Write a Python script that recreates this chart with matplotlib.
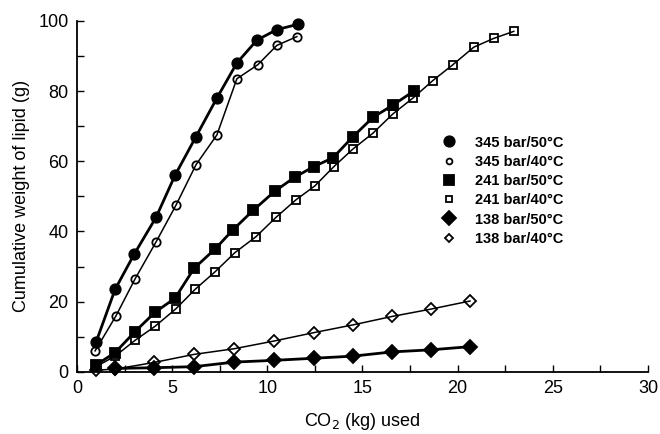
import matplotlib
matplotlib.use("Agg")
import matplotlib.pyplot as plt
from matplotlib.ticker import MultipleLocator

plt.rcParams['font.family'] = ['Liberation Sans', 'DejaVu Sans']

# 345 bar / 50 C
x_345_50 = [1.0, 2.0, 3.0, 4.15, 5.15, 6.25, 7.35, 8.4, 9.45, 10.5, 11.6]
y_345_50 = [8.5, 23.5, 33.5, 44, 56, 67, 78, 88, 94.5, 97.5, 99]
# 345 bar / 40 C
x_345_40 = [0.95, 2.05, 3.05, 4.15, 5.2, 6.25, 7.35, 8.4, 9.5, 10.5, 11.55]
y_345_40 = [6, 16, 26.5, 37, 47.5, 59, 67.5, 83.5, 87.5, 93, 95.5]
# 241 bar / 50 C
x_241_50 = [1.0, 2.0, 3.05, 4.1, 5.15, 6.15, 7.25, 8.2, 9.25, 10.4, 11.45,
            12.45, 13.45, 14.5, 15.55, 16.6, 17.7]
y_241_50 = [2, 5.5, 11.5, 17, 21, 29.5, 35, 40.5, 46, 51.5, 55.5,
            58.5, 61, 67, 72.5, 76, 80]
# 241 bar / 40 C
x_241_40 = [1.0, 2.0, 3.05, 4.1, 5.2, 6.2, 7.25, 8.3, 9.4, 10.45, 11.5,
            12.5, 13.5, 14.5, 15.55, 16.6, 17.65, 18.7, 19.75, 20.85, 21.9, 22.95]
y_241_40 = [1.5, 4.5, 9, 13, 18, 23.5, 28.5, 34, 38.5, 44, 49,
            53, 58.5, 63.5, 68, 73.5, 78, 83, 87.5, 92.5, 95, 97]
# 138 bar / 50 C
x_138_50 = [2.0, 4.05, 6.15, 8.25, 10.35, 12.45, 14.5, 16.55, 18.6, 20.65]
y_138_50 = [1.0, 1.2, 1.5, 2.8, 3.3, 3.9, 4.5, 5.7, 6.3, 7.2]
# 138 bar / 40 C
x_138_40 = [1.0, 2.0, 4.05, 6.15, 8.25, 10.35, 12.45, 14.5, 16.55, 18.6, 20.65]
y_138_40 = [0.5, 0.8, 2.7, 5.0, 6.6, 8.8, 11.2, 13.4, 15.8, 17.9, 20.2]

labels = ["345 bar/50°C", "345 bar/40°C", "241 bar/50°C",
          "241 bar/40°C", "138 bar/50°C", "138 bar/40°C"]

fig = plt.figure(figsize=(6.6, 4.34), dpi=100)
ax = fig.add_axes([0.1167, 0.143, 0.865, 0.809])

series = [
    (x_345_50, y_345_50, 'o', True, 7.5, 2.0),
    (x_345_40, y_345_40, 'o', False, 6.0, 1.1),
    (x_241_50, y_241_50, 's', True, 7.0, 2.0),
    (x_241_40, y_241_40, 's', False, 6.0, 1.1),
    (x_138_50, y_138_50, 'D', True, 7.5, 2.0),
    (x_138_40, y_138_40, 'D', False, 6.5, 1.1),
]
handles = []
for (xs, ys, m, filled, ms, lw), lab in zip(series, labels):
    ax.plot(xs, ys, '-', color='black', lw=lw, clip_on=False, zorder=2)
    ax.plot(xs, ys, linestyle='none', marker=m, markersize=ms,
            markerfacecolor='black' if filled else 'none',
            markeredgecolor='black', markeredgewidth=1.3, clip_on=False, zorder=3)
    h, = ax.plot([], [], linestyle='none', marker=m,
                 markersize=ms if filled else ms * 0.7,
                 markerfacecolor='black' if filled else 'none',
                 markeredgecolor='black', markeredgewidth=1.3)
    handles.append(h)

ax.set_xlim(0, 30)
ax.set_ylim(0, 100)
ax.xaxis.set_major_locator(MultipleLocator(5))
ax.xaxis.set_minor_locator(MultipleLocator(2.5))
ax.yaxis.set_major_locator(MultipleLocator(20))
ax.yaxis.set_minor_locator(MultipleLocator(10))
ax.tick_params(which='both', direction='in', top=False, right=False,
               labelsize=13, width=1.0)
ax.tick_params(which='major', length=5)
ax.tick_params(which='minor', length=5)
ax.tick_params(axis='x', pad=6)
ax.tick_params(axis='y', pad=6)
for s in ['top', 'right']:
    ax.spines[s].set_visible(False)
for s in ['left', 'bottom']:
    ax.spines[s].set_linewidth(1.3)

ax.set_xlabel("CO$_2$ (kg) used", fontsize=13, labelpad=10)
ax.set_ylabel("Cumulative weight of lipid (g)", fontsize=13, labelpad=6)

leg = ax.legend(handles, labels, loc='upper left', bbox_to_anchor=(0.628, 0.69),
                frameon=False, fontsize=10.5, handlelength=1.0, handletextpad=1.3,
                labelspacing=0.36, borderaxespad=0)
for t in leg.get_texts():
    t.set_fontweight('bold')

fig.savefig("out.png", dpi=100)
